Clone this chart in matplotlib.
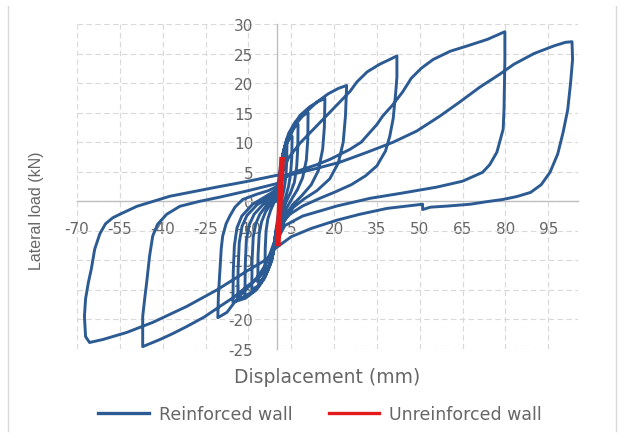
import matplotlib
matplotlib.use("Agg")
import matplotlib.pyplot as plt
from matplotlib.lines import Line2D

# axis ticks
x_ticks = [-70, -55, -40, -25, -10, 5, 20, 35, 50, 65, 80, 95]
x_tick_labels = ['-70', '-55', '-40', '-25', '-10', '5', '20', '35', '50', '65', '80', '95']
y_ticks = [-25, -20, -15, -10, -5, 0, 5, 10, 15, 20, 25, 30]
y_tick_labels = ['-25', '-20', '-15', '-10', '-5', '0', '5', '10', '15', '20', '25', '30']

# reinforced wall, one list pair per load cycle (displacement mm, load kN)
c1_disp = [0, 0.5, 1.2, 2.2, 3.5, 3.4, 3.1, 2.5, 1.8, 1.2, 0.4, -0.4, -1, -1.8, -2.9, -4.2, -4.1, -3.8, -3.2, -2.2, -1, 0]
c1_load = [0, 3, 5.8, 8, 9.3, 6.5, 4, 2, 0.6, -0.6, -2.5, -5, -8, -10, -11.3, -12, -8, -5, -3, -1.5, -0.2, 0.5]

c2_disp = [0.3, 0.9, 1.7, 2.8, 4.2, 5.3, 5.2, 4.8, 4.1, 3.2, 2.2, 0.8, -0.5, -1.3, -2.5, -4, -5.4, -6.7, -6.6, -6.2, -5.4, -4, -2, 0]
c2_load = [0.5, 4, 7, 9.3, 10.5, 11, 7.5, 4.8, 2.6, 1, -0.6, -2.8, -5.5, -8.5, -10.8, -12.5, -13.3, -13.7, -9, -5.5, -3.5, -1.8, -0.3, 0.8]

c3_disp = [0.4, 1.1, 2, 3.4, 5.3, 7.4, 7.3, 6.9, 6.1, 4.8, 3.3, 2, 0.8, -0.6, -1.5, -3, -4.8, -6.8, -8.8, -8.7, -8.3, -7.4, -6, -3.5, 0]
c3_load = [0.8, 4.5, 8, 10.5, 12.2, 13, 9, 5.8, 3.2, 1.5, 0, -1.5, -3.3, -6, -9, -11.5, -13.2, -14.4, -14.9, -10, -6, -3.8, -2.2, -0.6, 1]

c4_disp = [0.5, 1.3, 2.5, 4.1, 6.5, 9, 10.9, 10.8, 10.3, 9, 7.2, 5.2, 3.3, 1.5, -0.7, -1.8, -3.5, -5.8, -8.3, -11.2, -11.1, -10.7, -9.7, -8, -5, 0]
c4_load = [1, 5, 8.8, 11.5, 13.5, 14.5, 15, 10.5, 7, 4, 2, 0.4, -1.2, -3.6, -6.5, -9.5, -12, -14, -15.3, -16, -11, -6.5, -4, -2.2, -0.6, 1.2]

c5_disp = [0.6, 1.6, 3, 5.2, 8, 11.5, 14.5, 16.8, 16.6, 16, 14.5, 12, 8.8, 5.5, 3.2, 1.3, -0.8, -2, -4, -6.8, -10, -13.7, -13.6, -13.2, -12.2, -10.5, -7, -3, 0]
c5_load = [1.2, 5.5, 9.5, 12.2, 14.5, 16, 16.9, 17.4, 12.5, 8.8, 5.2, 2.8, 1, -0.6, -2.2, -4.2, -7, -10, -12.6, -14.6, -15.9, -16.6, -11.5, -7, -4.2, -2.4, -0.6, 0.6, 1.5]

c6_disp = [0.7, 1.9, 3.7, 6.5, 10, 14, 18, 21.5, 24.4, 24, 23.2, 21.5, 18.5, 14, 9.5, 5.8, 3.5, 1.5, -0.8, -2.2, -4.3, -7.2, -11, -15.4, -15.3, -14.9, -14, -12.3, -8.5, -4, 0]
c6_load = [1.5, 6, 10, 13, 15, 16.8, 18.2, 19.1, 19.6, 14.5, 10, 6.5, 3.8, 1.8, 0.4, -1, -2.4, -4.6, -7.5, -10.5, -13, -15, -16.4, -17.1, -12, -7.5, -4.5, -2.5, -0.5, 0.8, 2]

c7_disp = [0, 2, 4, 8, 13, 18, 22, 25.6, 28, 31.6, 36, 39.5, 42, 42, 41.6, 40.7, 39.5, 38, 35, 31, 26, 20, 15, 9, 4.5,
           2, 0.5, -1.4, -3.5, -6, -8.4, -13, -15.5, -17.5, -20.7, -20.5, -20, -19.5, -19, -17.8, -16.5, -14.7, -12, -7, -3, 0]
c7_load = [2, 5, 7.3, 9.8, 12.3, 14.8, 16.8, 18.6, 20.2, 21.9, 23.2, 24, 24.6, 21, 18.5, 14, 11, 8.5, 6, 4.3, 2.8, 1.5, 0.5, -0.8, -2.2,
           -3.6, -5.2, -7.5, -10.3, -12.3, -13.7, -16, -17.5, -18.8, -19.7, -16, -12, -8, -5.9, -3.8, -2.5, -1, 0.3, 1.2, 1.8, 2.5]

c8_disp = [0, 2, 9, 14, 18.6, 25.6, 29.5, 32.6, 35, 37, 40.5, 44, 47, 50.5, 54.7, 60.7, 66.7, 73.7, 79.8, 79.8,
           79.6, 79.5, 79.2, 77, 74.5, 72, 65, 56, 44, 32.6, 21, 9, 2.8, -0.5, -1.8, -3.5, -6.5, -10.5, -15, -20,
           -25.5, -31.6, -36.5, -41, -44, -47, -47, -47, -46.3, -45.6, -45.1, -44.6, -43.5, -41.8, -38.6, -34, -27, -20, -10, 0]
c8_load = [2.5, 4.2, 5.4, 6.2, 7.1, 8.8, 10, 11.7, 13, 14.4, 16.3, 18.5, 20.8, 22.5, 24, 25.4, 26.3, 27.4, 28.7, 24,
           19, 15.6, 12.2, 8.3, 6.2, 4.9, 3.4, 2.4, 1.4, 0.5, -0.8, -2.5, -4.1, -7, -9.8, -11.5, -13, -14.4, -16.2, -17.8,
           -19.6, -21.2, -22.4, -23.4, -24, -24.6, -22, -19.5, -16.5, -13.7, -11.5, -9.3, -5.9, -3.9, -2.2, -0.85, 0, 0.7, 1.8, 3.0]

c9_disp = [0, 4, 12.6, 22, 31.6, 40.7, 49, 57, 64, 71, 78, 83, 90, 97, 101, 103.3, 103.5, 102.8, 101.8, 100.2,
           98.3, 95.6, 92.5, 88.8, 84, 79, 73, 67.7, 60, 53.7, 51, 51, 38.6, 29, 21, 12, 5, 1.6, -1.2, -3.5, -10.5, -21,
           -31.6, -43.5, -52.6, -61, -65.6, -67, -67.4, -67, -66, -65, -63.8, -62, -60, -57.5, -55, -49, -37.5, -20, -10, 0]
c9_load = [3.0, 4.4, 5.4, 6.6, 8.3, 10, 11.9, 14.4, 16.8, 19.3, 21.5, 23.2, 25, 26.3, 26.9, 27, 24, 20, 15.5, 11.7,
           8, 4.9, 2.8, 1.5, 0.8, 0.3, -0.1, -0.5, -0.8, -1, -1.4, -0.5, -1.2, -2.2, -3.2, -4.6, -6, -7.2, -8.2, -9.8, -11.8, -15,
           -17.8, -20.5, -22.2, -23.4, -23.9, -22.9, -19.5, -16.5, -13.7, -11.5, -8.1, -5.5, -3.8, -2.8, -2.2, -0.85, 0.85, 2.5, 3.4, 4.4]

# unreinforced wall
unreinf_disp = [0.3, 0.7, 1.1, 1.5, 1.8]
unreinf_load = [-7.6, -3.5, 0.5, 4.0, 7.5]

BLUE = '#2C5A92'
RED = '#E31A1C'
TEXT = '#666666'

reinf_disp = c1_disp + c2_disp + c3_disp + c4_disp + c5_disp + c6_disp + c7_disp + c8_disp + c9_disp
reinf_load = c1_load + c2_load + c3_load + c4_load + c5_load + c6_load + c7_load + c8_load + c9_load

fig = plt.figure(figsize=(6.22, 4.35), dpi=100)
ax = fig.add_axes([77 / 622, 1 - 350 / 435, 501 / 622, 325 / 435])

ax.plot(reinf_disp, reinf_load, color=BLUE, lw=2.1, solid_joinstyle='round', zorder=3)
ax.plot(unreinf_disp, unreinf_load, color=RED, lw=4.0, solid_capstyle='butt', zorder=4)

ax.set_xlim(-70, 105.4)
ax.set_ylim(-25, 30)
ax.set_xticks(x_ticks)
ax.set_xticklabels(x_tick_labels)
ax.set_yticks(y_ticks)
ax.set_yticklabels(y_tick_labels)
ax.tick_params(length=0, labelsize=11, labelcolor=TEXT)
ax.tick_params(axis='x', pad=14.5)
ax.tick_params(axis='y', pad=17)

ax.spines['left'].set_position(('data', 0))
ax.spines['bottom'].set_position(('data', 0))
for side in ['top', 'right']:
    ax.spines[side].set_visible(False)
for side in ['left', 'bottom']:
    ax.spines[side].set_color('#BFBFBF')
    ax.spines[side].set_linewidth(1.0)
    ax.spines[side].set_zorder(1)

ax.set_axisbelow(True)
ax.grid(True, color='#D9D9D9', lw=0.8, ls=(0, (5, 3)))

fig.text(36 / 622, 1 - 211 / 435, 'Lateral load (kN)', rotation=90, ha='center', va='center',
         fontsize=11.5, color=TEXT, family='Liberation Sans')
fig.text(327 / 622, 1 - 378 / 435, 'Displacement (mm)', ha='center', va='center',
         fontsize=13.5, color=TEXT)

handles = [Line2D([], [], color=BLUE, lw=2.4), Line2D([], [], color=RED, lw=2.4)]
fig.legend(handles, ['Reinforced wall', 'Unreinforced wall'], ncol=2, loc='center',
           bbox_to_anchor=(320 / 622, 1 - 415 / 435), frameon=False, fontsize=12.5,
           labelcolor=TEXT, handlelength=2.9, handletextpad=0.57, columnspacing=2.1)

# chart-area border edges
for xp in [8, 616]:
    fig.add_artist(Line2D([xp / 622, xp / 622], [1 - 7 / 435, 1 - 432 / 435],
                          transform=fig.transFigure, color='#D9D9D9', lw=1.0))

fig.savefig('out.png', dpi=100)
